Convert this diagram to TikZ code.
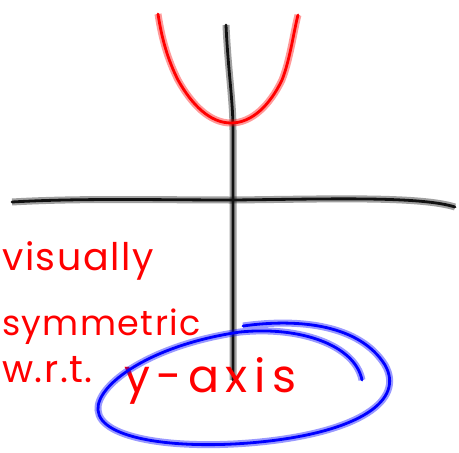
\documentclass[tikz,border=0pt]{standalone}
\usepackage{fontspec}
\setmainfont{Poppins}
\usepackage{tikz}
\usetikzlibrary{positioning}
\definecolor{InkRed}{HTML}{FF0000}
\definecolor{InkBlue}{HTML}{0000FF}
\definecolor{InkBlack}{HTML}{111111}
\begin{document}
\begin{tikzpicture}[
  x=1pt, y=-1pt,
  pen/.style={line cap=round, line join=round, line width=2.8pt, draw=#1,
              preaction={draw=#1, draw opacity=0.4, line width=7pt}},
  scrawl/.style={text=InkRed, font=\fontsize{38}{42}\selectfont\addfontfeature{LetterSpace=4},
                 inner sep=0pt, anchor=base west},
]
\useasboundingbox (0,0) rectangle (459,453);
% axes
\draw[pen=InkBlack] (226,25) .. controls (228,70) and (233,100) .. (233,130)
  -- (233,205) -- (233,380);
\draw[pen=InkBlack] (12,202) .. controls (80,198) and (160,200) .. (233,200)
  .. controls (330,199) and (420,196) .. (455,207);
% parabola
\draw[pen=InkRed] (158,14) .. controls (162,40) and (168,60) .. (178,80)
  .. controls (192,105) and (210,123) .. (231,123)
  .. controls (252,123) and (270,105) .. (282,80)
  .. controls (290,60) and (294,30) .. (298,15);
% labels
\node[scrawl] (vis) at (2,270) {visually};
\node[scrawl, font=\fontsize{35}{40}\selectfont\addfontfeature{LetterSpace=4}] (sym) at (2,335) {symmetric};
\node[scrawl] (wrt) at (2,382) {w.r.t.};
\node[scrawl, font=\fontsize{46}{50}\selectfont\addfontfeature{LetterSpace=14}] (yax) at (124,392) {y-axis};
% loop round the axis name
\draw[pen=InkBlue] (243,326) .. controls (300,318) and (360,325) .. (385,365)
  .. controls (405,400) and (360,432) .. (260,442)
  .. controls (180,450) and (100,440) .. (98,410)
  .. controls (96,385) and (150,345) .. (240,332)
  .. controls (300,326) and (355,345) .. (362,380);
\end{tikzpicture}
\end{document}
